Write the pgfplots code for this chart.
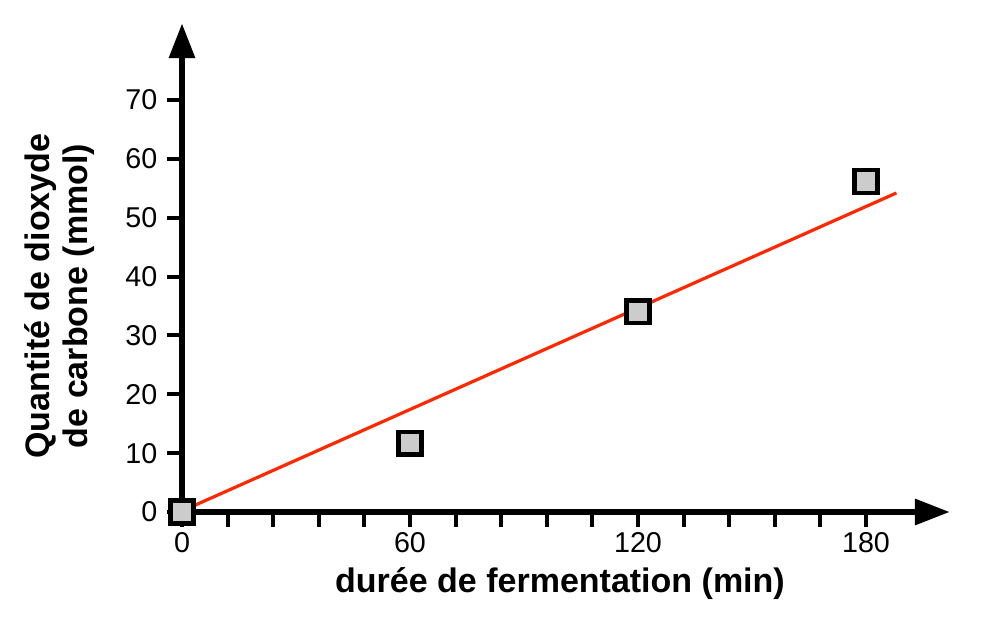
\documentclass[border=0pt]{standalone}
\usepackage{fontspec}
\setmainfont{Liberation Sans}
\usepackage{pgfplots}
\pgfplotsset{compat=1.18}
\usetikzlibrary{arrows.meta}
\definecolor{fitred}{RGB}{255,40,0}
\definecolor{markgray}{RGB}{204,204,204}

\begin{document}
\begin{tikzpicture}
% 1 px of the reference = 0.75pt; data origin at px (182,512)
\path[use as bounding box] (-136.5pt,-79.5pt) rectangle (618pt,384pt);
\begin{axis}[
  at={(0pt,0pt)}, anchor=south west,
  scale only axis, width=575.7pt, height=366.4pt,
  xmin=0, xmax=202, ymin=0, ymax=83,
  axis lines=left,
  axis line style={line width=3.9pt, -{Triangle[length=26pt,width=19pt]}},
  tick align=outside,
  major tick length=11pt, minor tick length=11pt,
  every tick/.style={line width=3pt, black},
  xtick={0,60,120,180},
  minor xtick={12,24,36,48,72,84,96,108,132,144,156,168},
  ytick={0,10,...,70},
  /pgf/number format/assume math mode=true,
  ticklabel style={font=\fontsize{21.5}{24}\selectfont},
  xticklabel style={yshift=-1pt},
  yticklabel style={xshift=-4pt},
  clip=false,
]
% regression line
\addplot[fitred, line width=2.4pt] coordinates {(-1.3,-0.2) (188,54.2)};
% measurements
\addplot[only marks, mark=square*, mark size=8.6pt,
  mark options={fill=markgray, draw=black, line width=3.2pt}]
  coordinates {(0,0) (60,11.7) (120,34.0) (180,56.1)};
\end{axis}
\node[font=\fontsize{25.5}{29}\selectfont\bfseries, anchor=center]
  at (283.5pt,-53.5pt) {durée de fermentation (min)};
\node[font=\fontsize{25.5}{28.5}\selectfont\bfseries, rotate=90, align=center, anchor=center]
  at (-91.5pt,162pt) {Quantité de dioxyde\\de carbone (mmol)};
\end{tikzpicture}
\end{document}
